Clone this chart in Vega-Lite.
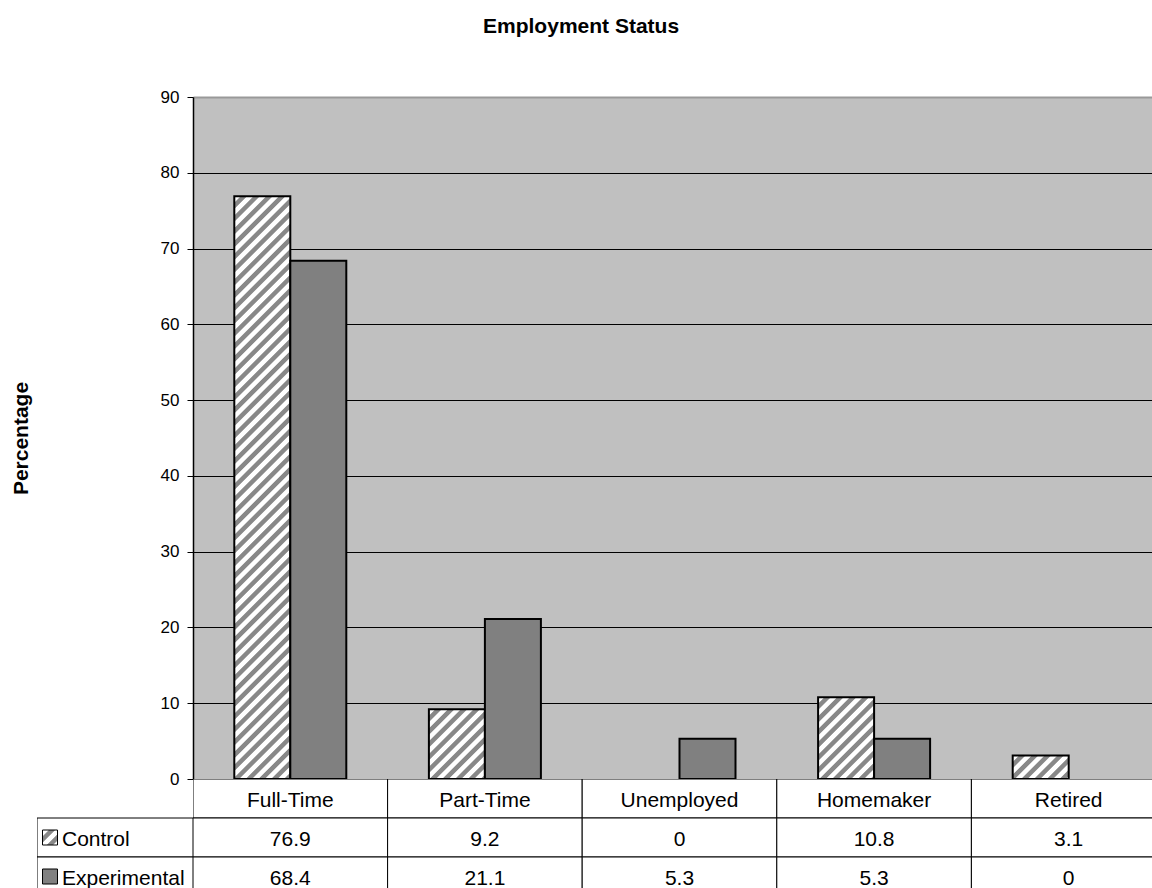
{
"$schema":"https://vega.github.io/schema/vega-lite/v6.json",
"padding":{"left":10,"top":16,"right":0,"bottom":0},
"background":"white",
"title":{"text":"Employment Status","font":"Liberation Sans","fontSize":21,"fontWeight":"bold","color":"black","anchor":"middle","offset":51},
"config":{"font":"Liberation Sans","view":{"stroke":null}},
"datasets":{"emp":[
{"category":"Full-Time","group":"Control","value":76.9},
{"category":"Full-Time","group":"Experimental","value":68.4},
{"category":"Part-Time","group":"Control","value":9.2},
{"category":"Part-Time","group":"Experimental","value":21.1},
{"category":"Unemployed","group":"Control","value":0},
{"category":"Unemployed","group":"Experimental","value":5.3},
{"category":"Homemaker","group":"Control","value":10.8},
{"category":"Homemaker","group":"Experimental","value":5.3},
{"category":"Retired","group":"Control","value":3.1},
{"category":"Retired","group":"Experimental","value":0}
]},
"columns":2,"spacing":0,"bounds":"flush","align":"each",
"concat":[
{"width":156,"height":682,"data":{"values":[]},"mark":{"type":"point","opacity":0},"encoding":{}},
{"width":959,"height":682,
"data":{"name":"emp"},
"view":{"fill":"#C0C0C0","stroke":null},
"transform":[{"filter":"datum.value > 0"}],
"mark":{"type":"bar","stroke":"black","strokeWidth":2},
"encoding":{
"x":{"field":"category","type":"nominal","sort":["Full-Time","Part-Time","Unemployed","Homemaker","Retired"],"scale":{"type":"band","domain":["Full-Time","Part-Time","Unemployed","Homemaker","Retired"],"range":[0,973],"paddingInner":0,"paddingOuter":0},"axis":null},
"xOffset":{"field":"group","type":"nominal","scale":{"domain":["Control","Experimental"],"paddingInner":0,"paddingOuter":0.7375}},
"y":{"field":"value","type":"quantitative","scale":{"domain":[0,90],"nice":false},"axis":{"values":[0,10,20,30,40,50,60,70,80,90],"title":"Percentage","titleFontSize":21,"titleFontWeight":"bold","titleColor":"black","titlePadding":129,"labelFontSize":17,"labelColor":"black","labelPadding":8,"tickSize":6,"tickColor":"black","domainColor":"black","domainWidth":1.5,"grid":true,"gridOpacity":1,"gridColor":{"condition":{"test":"datum.value === 90","value":"#999999"},"value":"black"},"gridWidth":{"condition":{"test":"datum.value === 90","value":2},"value":1}}},
"fill":{"condition":[
{"test":"datum.group === 'Control' && datum.category === 'Full-Time'","value":{"gradient":"linear","x1":0,"y1":0,"x2":0.10437,"y2":1.08607,"stops":[
{"offset":0.001,"color":"#fff"},{"offset":0.009,"color":"#fff"},{"offset":0.011,"color":"#888"},{"offset":0.019,"color":"#888"},{"offset":0.021,"color":"#fff"},{"offset":0.029,"color":"#fff"},{"offset":0.031,"color":"#888"},{"offset":0.039,"color":"#888"},{"offset":0.041,"color":"#fff"},{"offset":0.049,"color":"#fff"},{"offset":0.051,"color":"#888"},{"offset":0.059,"color":"#888"},{"offset":0.061,"color":"#fff"},{"offset":0.069,"color":"#fff"},{"offset":0.071,"color":"#888"},{"offset":0.079,"color":"#888"},{"offset":0.081,"color":"#fff"},{"offset":0.089,"color":"#fff"},{"offset":0.091,"color":"#888"},{"offset":0.099,"color":"#888"},
{"offset":0.101,"color":"#fff"},{"offset":0.109,"color":"#fff"},{"offset":0.111,"color":"#888"},{"offset":0.119,"color":"#888"},{"offset":0.121,"color":"#fff"},{"offset":0.129,"color":"#fff"},{"offset":0.131,"color":"#888"},{"offset":0.139,"color":"#888"},{"offset":0.141,"color":"#fff"},{"offset":0.149,"color":"#fff"},{"offset":0.151,"color":"#888"},{"offset":0.159,"color":"#888"},{"offset":0.161,"color":"#fff"},{"offset":0.169,"color":"#fff"},{"offset":0.171,"color":"#888"},{"offset":0.179,"color":"#888"},{"offset":0.181,"color":"#fff"},{"offset":0.189,"color":"#fff"},{"offset":0.191,"color":"#888"},{"offset":0.199,"color":"#888"},
{"offset":0.201,"color":"#fff"},{"offset":0.209,"color":"#fff"},{"offset":0.211,"color":"#888"},{"offset":0.219,"color":"#888"},{"offset":0.221,"color":"#fff"},{"offset":0.229,"color":"#fff"},{"offset":0.231,"color":"#888"},{"offset":0.239,"color":"#888"},{"offset":0.241,"color":"#fff"},{"offset":0.249,"color":"#fff"},{"offset":0.251,"color":"#888"},{"offset":0.259,"color":"#888"},{"offset":0.261,"color":"#fff"},{"offset":0.269,"color":"#fff"},{"offset":0.271,"color":"#888"},{"offset":0.279,"color":"#888"},{"offset":0.281,"color":"#fff"},{"offset":0.289,"color":"#fff"},{"offset":0.291,"color":"#888"},{"offset":0.299,"color":"#888"},
{"offset":0.301,"color":"#fff"},{"offset":0.309,"color":"#fff"},{"offset":0.311,"color":"#888"},{"offset":0.319,"color":"#888"},{"offset":0.321,"color":"#fff"},{"offset":0.329,"color":"#fff"},{"offset":0.331,"color":"#888"},{"offset":0.339,"color":"#888"},{"offset":0.341,"color":"#fff"},{"offset":0.349,"color":"#fff"},{"offset":0.351,"color":"#888"},{"offset":0.359,"color":"#888"},{"offset":0.361,"color":"#fff"},{"offset":0.369,"color":"#fff"},{"offset":0.371,"color":"#888"},{"offset":0.379,"color":"#888"},{"offset":0.381,"color":"#fff"},{"offset":0.389,"color":"#fff"},{"offset":0.391,"color":"#888"},{"offset":0.399,"color":"#888"},
{"offset":0.401,"color":"#fff"},{"offset":0.409,"color":"#fff"},{"offset":0.411,"color":"#888"},{"offset":0.419,"color":"#888"},{"offset":0.421,"color":"#fff"},{"offset":0.429,"color":"#fff"},{"offset":0.431,"color":"#888"},{"offset":0.439,"color":"#888"},{"offset":0.441,"color":"#fff"},{"offset":0.449,"color":"#fff"},{"offset":0.451,"color":"#888"},{"offset":0.459,"color":"#888"},{"offset":0.461,"color":"#fff"},{"offset":0.469,"color":"#fff"},{"offset":0.471,"color":"#888"},{"offset":0.479,"color":"#888"},{"offset":0.481,"color":"#fff"},{"offset":0.489,"color":"#fff"},{"offset":0.491,"color":"#888"},{"offset":0.499,"color":"#888"},
{"offset":0.501,"color":"#fff"},{"offset":0.509,"color":"#fff"},{"offset":0.511,"color":"#888"},{"offset":0.519,"color":"#888"},{"offset":0.521,"color":"#fff"},{"offset":0.529,"color":"#fff"},{"offset":0.531,"color":"#888"},{"offset":0.539,"color":"#888"},{"offset":0.541,"color":"#fff"},{"offset":0.549,"color":"#fff"},{"offset":0.551,"color":"#888"},{"offset":0.559,"color":"#888"},{"offset":0.561,"color":"#fff"},{"offset":0.569,"color":"#fff"},{"offset":0.571,"color":"#888"},{"offset":0.579,"color":"#888"},{"offset":0.581,"color":"#fff"},{"offset":0.589,"color":"#fff"},{"offset":0.591,"color":"#888"},{"offset":0.599,"color":"#888"},
{"offset":0.601,"color":"#fff"},{"offset":0.609,"color":"#fff"},{"offset":0.611,"color":"#888"},{"offset":0.619,"color":"#888"},{"offset":0.621,"color":"#fff"},{"offset":0.629,"color":"#fff"},{"offset":0.631,"color":"#888"},{"offset":0.639,"color":"#888"},{"offset":0.641,"color":"#fff"},{"offset":0.649,"color":"#fff"},{"offset":0.651,"color":"#888"},{"offset":0.659,"color":"#888"},{"offset":0.661,"color":"#fff"},{"offset":0.669,"color":"#fff"},{"offset":0.671,"color":"#888"},{"offset":0.679,"color":"#888"},{"offset":0.681,"color":"#fff"},{"offset":0.689,"color":"#fff"},{"offset":0.691,"color":"#888"},{"offset":0.699,"color":"#888"},
{"offset":0.701,"color":"#fff"},{"offset":0.709,"color":"#fff"},{"offset":0.711,"color":"#888"},{"offset":0.719,"color":"#888"},{"offset":0.721,"color":"#fff"},{"offset":0.729,"color":"#fff"},{"offset":0.731,"color":"#888"},{"offset":0.739,"color":"#888"},{"offset":0.741,"color":"#fff"},{"offset":0.749,"color":"#fff"},{"offset":0.751,"color":"#888"},{"offset":0.759,"color":"#888"},{"offset":0.761,"color":"#fff"},{"offset":0.769,"color":"#fff"},{"offset":0.771,"color":"#888"},{"offset":0.779,"color":"#888"},{"offset":0.781,"color":"#fff"},{"offset":0.789,"color":"#fff"},{"offset":0.791,"color":"#888"},{"offset":0.799,"color":"#888"},
{"offset":0.801,"color":"#fff"},{"offset":0.809,"color":"#fff"},{"offset":0.811,"color":"#888"},{"offset":0.819,"color":"#888"},{"offset":0.821,"color":"#fff"},{"offset":0.829,"color":"#fff"},{"offset":0.831,"color":"#888"},{"offset":0.839,"color":"#888"},{"offset":0.841,"color":"#fff"},{"offset":0.849,"color":"#fff"},{"offset":0.851,"color":"#888"},{"offset":0.859,"color":"#888"},{"offset":0.861,"color":"#fff"},{"offset":0.869,"color":"#fff"},{"offset":0.871,"color":"#888"},{"offset":0.879,"color":"#888"},{"offset":0.881,"color":"#fff"},{"offset":0.889,"color":"#fff"},{"offset":0.891,"color":"#888"},{"offset":0.899,"color":"#888"},
{"offset":0.901,"color":"#fff"},{"offset":0.909,"color":"#fff"},{"offset":0.911,"color":"#888"},{"offset":0.919,"color":"#888"},{"offset":0.921,"color":"#fff"},{"offset":0.929,"color":"#fff"},{"offset":0.931,"color":"#888"},{"offset":0.939,"color":"#888"},{"offset":0.941,"color":"#fff"},{"offset":0.949,"color":"#fff"},{"offset":0.951,"color":"#888"},{"offset":0.959,"color":"#888"},{"offset":0.961,"color":"#fff"},{"offset":0.969,"color":"#fff"},{"offset":0.971,"color":"#888"},{"offset":0.979,"color":"#888"},{"offset":0.981,"color":"#fff"},{"offset":0.989,"color":"#fff"},{"offset":0.991,"color":"#888"},{"offset":0.999,"color":"#888"}
]}},
{"test":"datum.group === 'Control' && datum.category === 'Part-Time'","value":{"gradient":"linear","x1":0,"y1":0,"x2":4.4729,"y2":5.5687,"stops":[
{"offset":0.001,"color":"#fff"},{"offset":0.009,"color":"#fff"},{"offset":0.011,"color":"#888"},{"offset":0.019,"color":"#888"},{"offset":0.021,"color":"#fff"},{"offset":0.029,"color":"#fff"},{"offset":0.031,"color":"#888"},{"offset":0.039,"color":"#888"},{"offset":0.041,"color":"#fff"},{"offset":0.049,"color":"#fff"},{"offset":0.051,"color":"#888"},{"offset":0.059,"color":"#888"},{"offset":0.061,"color":"#fff"},{"offset":0.069,"color":"#fff"},{"offset":0.071,"color":"#888"},{"offset":0.079,"color":"#888"},{"offset":0.081,"color":"#fff"},{"offset":0.089,"color":"#fff"},{"offset":0.091,"color":"#888"},{"offset":0.099,"color":"#888"},
{"offset":0.101,"color":"#fff"},{"offset":0.109,"color":"#fff"},{"offset":0.111,"color":"#888"},{"offset":0.119,"color":"#888"},{"offset":0.121,"color":"#fff"},{"offset":0.129,"color":"#fff"},{"offset":0.131,"color":"#888"},{"offset":0.139,"color":"#888"},{"offset":0.141,"color":"#fff"},{"offset":0.149,"color":"#fff"},{"offset":0.151,"color":"#888"},{"offset":0.159,"color":"#888"},{"offset":0.161,"color":"#fff"},{"offset":0.169,"color":"#fff"},{"offset":0.171,"color":"#888"},{"offset":0.179,"color":"#888"},{"offset":0.181,"color":"#fff"},{"offset":0.189,"color":"#fff"},{"offset":0.191,"color":"#888"},{"offset":0.199,"color":"#888"},
{"offset":0.201,"color":"#fff"},{"offset":0.209,"color":"#fff"}
]}},
{"test":"datum.group === 'Control' && datum.category === 'Homemaker'","value":{"gradient":"linear","x1":0,"y1":0,"x2":3.6374,"y2":5.3157,"stops":[
{"offset":0.001,"color":"#fff"},{"offset":0.009,"color":"#fff"},{"offset":0.011,"color":"#888"},{"offset":0.019,"color":"#888"},{"offset":0.021,"color":"#fff"},{"offset":0.029,"color":"#fff"},{"offset":0.031,"color":"#888"},{"offset":0.039,"color":"#888"},{"offset":0.041,"color":"#fff"},{"offset":0.049,"color":"#fff"},{"offset":0.051,"color":"#888"},{"offset":0.059,"color":"#888"},{"offset":0.061,"color":"#fff"},{"offset":0.069,"color":"#fff"},{"offset":0.071,"color":"#888"},{"offset":0.079,"color":"#888"},{"offset":0.081,"color":"#fff"},{"offset":0.089,"color":"#fff"},{"offset":0.091,"color":"#888"},{"offset":0.099,"color":"#888"},
{"offset":0.101,"color":"#fff"},{"offset":0.109,"color":"#fff"},{"offset":0.111,"color":"#888"},{"offset":0.119,"color":"#888"},{"offset":0.121,"color":"#fff"},{"offset":0.129,"color":"#fff"},{"offset":0.131,"color":"#888"},{"offset":0.139,"color":"#888"},{"offset":0.141,"color":"#fff"},{"offset":0.149,"color":"#fff"},{"offset":0.151,"color":"#888"},{"offset":0.159,"color":"#888"},{"offset":0.161,"color":"#fff"},{"offset":0.169,"color":"#fff"},{"offset":0.171,"color":"#888"},{"offset":0.179,"color":"#888"},{"offset":0.181,"color":"#fff"},{"offset":0.189,"color":"#fff"},{"offset":0.191,"color":"#888"},{"offset":0.199,"color":"#888"},
{"offset":0.201,"color":"#fff"},{"offset":0.209,"color":"#fff"},{"offset":0.211,"color":"#888"},{"offset":0.219,"color":"#888"},{"offset":0.221,"color":"#fff"},{"offset":0.229,"color":"#fff"}
]}},
{"test":"datum.group === 'Control' && datum.category === 'Retired'","value":{"gradient":"linear","x1":0,"y1":0,"x2":9.6993,"y2":4.0685,"stops":[
{"offset":0.001,"color":"#fff"},{"offset":0.009,"color":"#fff"},{"offset":0.011,"color":"#888"},{"offset":0.019,"color":"#888"},{"offset":0.021,"color":"#fff"},{"offset":0.029,"color":"#fff"},{"offset":0.031,"color":"#888"},{"offset":0.039,"color":"#888"},{"offset":0.041,"color":"#fff"},{"offset":0.049,"color":"#fff"},{"offset":0.051,"color":"#888"},{"offset":0.059,"color":"#888"},{"offset":0.061,"color":"#fff"},{"offset":0.069,"color":"#fff"},{"offset":0.071,"color":"#888"},{"offset":0.079,"color":"#888"},{"offset":0.081,"color":"#fff"},{"offset":0.089,"color":"#fff"},{"offset":0.091,"color":"#888"},{"offset":0.099,"color":"#888"},
{"offset":0.101,"color":"#fff"},{"offset":0.109,"color":"#fff"},{"offset":0.111,"color":"#888"},{"offset":0.119,"color":"#888"},{"offset":0.121,"color":"#fff"},{"offset":0.129,"color":"#fff"}
]}}
],"value":"#808080"}
}},
{"width":156,"height":109,
"data":{"name":"emp"},
"transform":[{"filter":"datum.category === 'Full-Time'"}],
"encoding":{
"y":{"field":"group","type":"nominal","scale":{"type":"band","domain":["hdr","Control","Experimental"],"range":[0,117],"paddingInner":0,"paddingOuter":0},"axis":null}
},
"layer":[
{"mark":{"type":"rect","fill":"white","stroke":"black","strokeWidth":1,"clip":true},
"encoding":{"x":{"datum":"lab","type":"nominal","scale":{"type":"band","domain":["lab"],"paddingInner":0,"paddingOuter":0},"axis":null}}},
{"mark":{"type":"point","shape":"square","size":225,"filled":true,"opacity":1,"stroke":"black","strokeWidth":1,"xOffset":13},
"encoding":{"x":{"datum":"lab","type":"nominal","bandPosition":0,"scale":{"type":"band"},"axis":null},
"fill":{"condition":{"test":"datum.group === 'Control'","value":{"gradient":"linear","x1":0,"y1":0,"x2":21.29,"y2":21.29,"stops":[
{"offset":0.001,"color":"#fff"},{"offset":0.009,"color":"#fff"},{"offset":0.011,"color":"#888"},{"offset":0.019,"color":"#888"},{"offset":0.021,"color":"#fff"},{"offset":0.029,"color":"#fff"},{"offset":0.031,"color":"#888"},{"offset":0.039,"color":"#888"},{"offset":0.041,"color":"#fff"},{"offset":0.049,"color":"#fff"},{"offset":0.051,"color":"#888"},{"offset":0.059,"color":"#888"}
]}},"value":"#808080"}}},
{"mark":{"type":"text","align":"left","baseline":"middle","fontSize":21,"fill":"black","dx":25,"dy":2},
"encoding":{"x":{"datum":"lab","type":"nominal","bandPosition":0,"scale":{"type":"band"},"axis":null},"text":{"field":"group","type":"nominal"}}}
]},
{"width":959,"height":109,
"data":{"name":"emp"},
"encoding":{
"x":{"field":"category","type":"nominal","scale":{"type":"band","domain":["Full-Time","Part-Time","Unemployed","Homemaker","Retired"],"range":[0,973],"paddingInner":0,"paddingOuter":0},"axis":null}
},
"layer":[
{"transform":[{"filter":"datum.group === 'Control'"}],
"mark":{"type":"rect","fill":"white","stroke":"black","strokeWidth":1,"clip":true},
"encoding":{"y":{"datum":"hdr","type":"nominal","scale":{"type":"band","domain":["hdr","Control","Experimental"],"range":[0,117],"paddingInner":0,"paddingOuter":0},"axis":null}}},
{"mark":{"type":"rect","fill":"white","stroke":"black","strokeWidth":1,"clip":true},
"encoding":{"y":{"field":"group","type":"nominal","axis":null}}},
{"transform":[{"filter":"datum.group === 'Control'"}],
"mark":{"type":"text","fontSize":21,"fill":"black","baseline":"middle","dy":2},
"encoding":{"y":{"datum":"hdr","type":"nominal","axis":null},"text":{"field":"category","type":"nominal"}}},
{"mark":{"type":"text","fontSize":21,"fill":"black","baseline":"middle","dy":2},
"encoding":{"y":{"field":"group","type":"nominal","axis":null},"text":{"field":"value","type":"nominal"}}}
]}
]
}
